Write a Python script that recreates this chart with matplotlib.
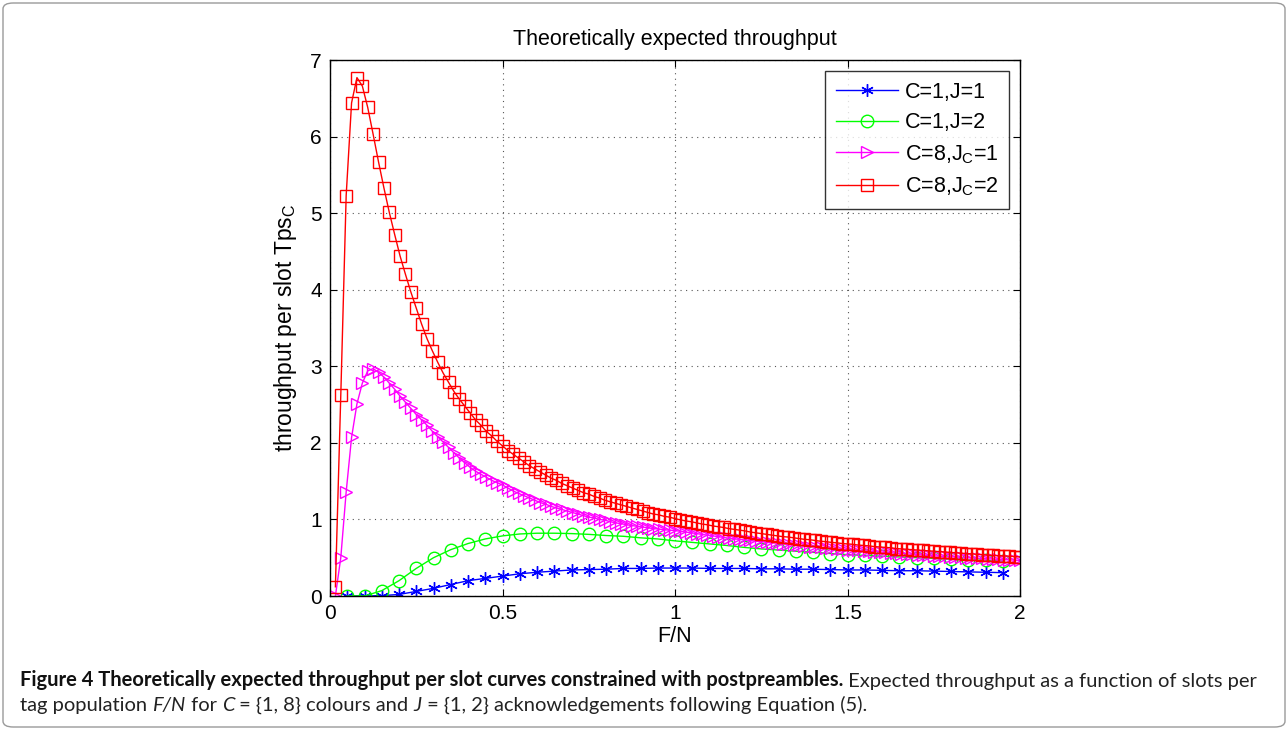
import numpy as np
import matplotlib
matplotlib.use('Agg')
import matplotlib.pyplot as plt
import matplotlib.patches as patches

plt.rcParams['font.family'] = ['Liberation Sans', 'DejaVu Sans']
plt.rcParams['mathtext.fontset'] = 'custom'
plt.rcParams['mathtext.rm'] = 'Liberation Sans'
plt.rcParams['mathtext.it'] = 'Liberation Sans:italic'

# x grids (slots per tag F/N)
x_c1 = np.arange(1, 40) * 0.05
x_c8 = np.arange(1, 129) / 64.0

# C=1, J=1
tps_c1_j1 = [0.0, 0.0, 0.005, 0.02, 0.06, 0.10, 0.15, 0.20, 0.23, 0.26,
             0.29, 0.31, 0.325, 0.34, 0.345, 0.35, 0.36, 0.36, 0.365, 0.365,
             0.365, 0.36, 0.36, 0.36, 0.355, 0.355, 0.35, 0.35, 0.345, 0.34,
             0.34, 0.335, 0.33, 0.33, 0.325, 0.32, 0.315, 0.31, 0.305]

# C=1, J=2
tps_c1_j2 = [0.0, 0.0, 0.07, 0.20, 0.36, 0.50, 0.605, 0.685, 0.745, 0.785,
             0.81, 0.82, 0.82, 0.815, 0.805, 0.79, 0.78, 0.76, 0.745, 0.72,
             0.70, 0.68, 0.66, 0.635, 0.615, 0.60, 0.585, 0.57, 0.555, 0.54,
             0.53, 0.52, 0.51, 0.50, 0.49, 0.48, 0.47, 0.465, 0.455]

# C=8, J_C=1
tps_c8_j1 = [0.0, 0.50, 1.36, 2.07, 2.51, 2.78, 2.94, 2.97, 2.92, 2.86,
             2.78, 2.70, 2.61, 2.53, 2.45, 2.37, 2.30, 2.23, 2.15, 2.08,
             2.01, 1.94, 1.87, 1.80, 1.74, 1.68, 1.63, 1.59, 1.55, 1.51,
             1.48, 1.45, 1.41, 1.37, 1.34, 1.31, 1.28, 1.25, 1.22, 1.20,
             1.17, 1.15, 1.13, 1.11, 1.09, 1.07, 1.05, 1.03, 1.02, 1.00,
             0.99, 0.97, 0.955, 0.945, 0.93, 0.92, 0.91, 0.90, 0.89, 0.88,
             0.875, 0.865, 0.86, 0.855, 0.845, 0.835, 0.825, 0.815, 0.805, 0.795,
             0.785, 0.775, 0.765, 0.755, 0.745, 0.74, 0.73, 0.725, 0.715, 0.71,
             0.70, 0.695, 0.69, 0.68, 0.675, 0.665, 0.66, 0.655, 0.645, 0.64,
             0.635, 0.63, 0.625, 0.615, 0.61, 0.605, 0.60, 0.595, 0.59, 0.585,
             0.58, 0.575, 0.57, 0.565, 0.56, 0.555, 0.55, 0.545, 0.54, 0.535,
             0.53, 0.525, 0.52, 0.517, 0.513, 0.51, 0.505, 0.50, 0.497, 0.493,
             0.49, 0.485, 0.482, 0.478, 0.475, 0.472, 0.468, 0.465]

# C=8, J_C=2
tps_c8_j2 = [0.12, 2.62, 5.23, 6.44, 6.77, 6.66, 6.38, 6.03, 5.67, 5.33,
             5.01, 4.72, 4.44, 4.20, 3.97, 3.76, 3.55, 3.36, 3.20, 3.05,
             2.91, 2.79, 2.67, 2.57, 2.48, 2.39, 2.30, 2.23, 2.15, 2.09,
             2.02, 1.96, 1.90, 1.85, 1.80, 1.75, 1.70, 1.66, 1.62, 1.58,
             1.54, 1.51, 1.47, 1.44, 1.41, 1.38, 1.35, 1.33, 1.30, 1.28,
             1.25, 1.23, 1.21, 1.19, 1.17, 1.15, 1.13, 1.11, 1.09, 1.07,
             1.06, 1.04, 1.03, 1.01, 0.995, 0.98, 0.97, 0.955, 0.94, 0.93,
             0.915, 0.905, 0.895, 0.88, 0.87, 0.86, 0.85, 0.835, 0.825, 0.815,
             0.805, 0.795, 0.785, 0.775, 0.77, 0.76, 0.75, 0.74, 0.735, 0.725,
             0.715, 0.71, 0.70, 0.695, 0.685, 0.68, 0.675, 0.665, 0.66, 0.655,
             0.645, 0.64, 0.635, 0.63, 0.62, 0.615, 0.61, 0.605, 0.60, 0.595,
             0.59, 0.585, 0.58, 0.575, 0.57, 0.565, 0.56, 0.555, 0.55, 0.545,
             0.54, 0.535, 0.53, 0.527, 0.523, 0.52, 0.515, 0.51]

series_labels = ['C=1,J=1', 'C=1,J=2', 'C=8,J$_\\mathregular{C}$=1', 'C=8,J$_\\mathregular{C}$=2']

fig = plt.figure(figsize=(12.88, 7.30), dpi=100)
ax = fig.add_axes([330 / 1288, 1 - 596 / 730, 690 / 1288, 536 / 730])

asterisk = (6, 2, 0)
ax.plot(x_c1, tps_c1_j1, color='#0000ff', marker=asterisk, ms=9, mew=1.0, lw=1.0, label=series_labels[0])
ax.plot(x_c1, tps_c1_j2, color='#00ff00', marker='o', ms=9, mfc='none', mew=1.0, lw=1.0, label=series_labels[1])
ax.plot(x_c8, tps_c8_j1, color='#ff00ff', marker='>', ms=9, mfc='none', mew=1.0, lw=1.0, label=series_labels[2])
ax.plot(x_c8, tps_c8_j2, color='#ff0000', marker='s', ms=8, mfc='none', mew=1.0, lw=1.0, label=series_labels[3])

ax.set_xlim(0, 2)
ax.set_ylim(0, 7)
ax.set_xticks([0, 0.5, 1, 1.5, 2])
ax.set_xticklabels(['0', '0.5', '1', '1.5', '2'])
ax.set_yticks(range(0, 8))
ax.tick_params(direction='in', length=5, width=0.8, top=True, right=True, labelsize=15, pad=6)
ax.grid(True, color='#555555', linestyle=(0, (1, 4)), linewidth=0.8)
for s in ax.spines.values():
    s.set_linewidth(1.0)

ax.set_title('Theoretically expected throughput', fontsize=15.5, pad=11)
ax.set_xlabel('F/N', fontsize=15.5, labelpad=2)
ax.set_ylabel('throughput per slot Tps$_\\mathregular{C}$', fontsize=16.5, labelpad=8)

leg = ax.legend(loc='upper right', fontsize=15.5, frameon=True, fancybox=False, edgecolor='black',
                borderaxespad=0.5, handlelength=2.9, handletextpad=0.3, labelspacing=0.45, borderpad=0.5)
leg.get_frame().set_linewidth(1.0)

# caption, built piece by piece so bold / italic runs follow each other
cap_font = 'Lato'
cap_size = 14.5
t1 = fig.text(20 / 1288, 1 - 686 / 730, 'Figure 4 Theoretically expected throughput per slot curves constrained with postpreambles.',
              fontsize=cap_size, fontweight='bold', family=cap_font, va='baseline', color='#111111')
plt.annotate(' Expected throughput as a function of slots per', xy=(1, 0), xycoords=t1,
             va='bottom', ha='left', fontsize=cap_size, family=cap_font, color='#222222')

pieces = [('tag population ', 'normal'), ('F/N', 'italic'), (' for ', 'normal'), ('C', 'italic'),
          (' = {1, 8} colours and ', 'normal'), ('J', 'italic'),
          (' = {1, 2} acknowledgements following Equation (5).', 'normal')]
prev = fig.text(20 / 1288, 1 - 711 / 730, pieces[0][0], fontsize=cap_size, family=cap_font,
                va='baseline', color='#222222')
for txt, style in pieces[1:]:
    prev = plt.annotate(txt, xy=(1, 0), xycoords=prev, va='bottom', ha='left', fontsize=cap_size,
                        family=cap_font, style=style, color='#222222')

border = patches.FancyBboxPatch((3 / 1288, 3 / 730), 1282 / 1288, 724 / 730,
                                boxstyle='round,pad=0,rounding_size=0.008',
                                transform=fig.transFigure, fill=False, edgecolor='#9a9a9a', linewidth=1.0)
fig.add_artist(border)

plt.savefig('out.png', dpi=100)
